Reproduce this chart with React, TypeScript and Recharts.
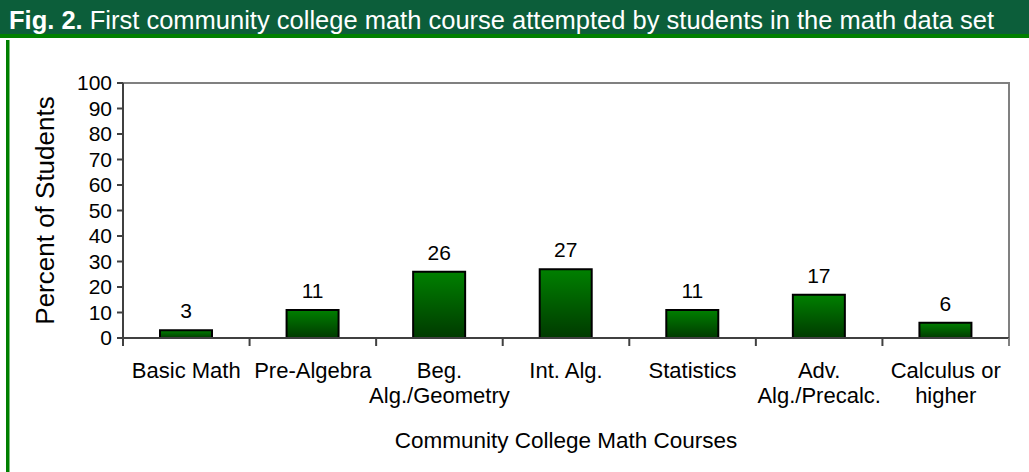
import React from "react";
import {
  BarChart, Bar, XAxis, YAxis, LabelList, ReferenceArea,
} from "recharts";

// courses (line breaks as they appear on the axis)
const COURSES = [
  "Basic Math",
  "Pre-Algebra",
  "Beg.\nAlg./Geometry",
  "Int. Alg.",
  "Statistics",
  "Adv.\nAlg./Precalc.",
  "Calculus or\nhigher",
];
const PERCENTS = [3, 11, 26, 27, 11, 17, 6];
const Y_TICKS = [0, 10, 20, 30, 40, 50, 60, 70, 80, 90, 100];

const data = COURSES.map((course, i) => ({ course, pct: PERCENTS[i] }));

const FONT = "'Liberation Sans', Arial, sans-serif";

// category label + tick marks at the band edges
const CourseTick = (props: any) => {
  const { x, y, payload, index, visibleTicksCount } = props;
  const half = payload.offset ?? 0;
  const lines = String(payload.value).split("\n");
  const last = index === visibleTicksCount - 1;
  return (
    <g>
      <line x1={x - half} y1={y} x2={x - half} y2={y + 8} stroke="#404040" strokeWidth={2} />
      {last && <line x1={x + half} y1={y} x2={x + half} y2={y + 8} stroke="#808080" strokeWidth={2} />}
      <text x={x} y={y + 40} textAnchor="middle" fontSize={22} fill="#000" fontFamily={FONT}>
        {lines.map((l, i) => (
          <tspan key={i} x={x} dy={i === 0 ? 0 : 25}>{l}</tspan>
        ))}
      </text>
    </g>
  );
};

export default function App() {
  return (
    <div style={{ position: "absolute", left: 0, top: 0, width: 1029, height: 472, background: "#fff", overflow: "hidden" }}>
      <div
        style={{
          position: "absolute", left: 0, top: 0, width: 1029, height: 38,
          background: "#0c5e3a", borderBottom: "4px solid #008000",
          color: "#fff", fontFamily: FONT, fontSize: 25.5, lineHeight: "40px",
          paddingLeft: 9, boxSizing: "border-box", whiteSpace: "nowrap",
        }}
      >
        <b>Fig. 2.</b> First community college math course attempted by students in the math data set
      </div>
      <div style={{ position: "absolute", left: 6, top: 40, width: 3, height: 432, background: "#008000", borderRight: "1px solid #7fbf7f" }} />
      <div style={{ position: "absolute", left: 0, top: 0 }}>
        <BarChart
          width={1029}
          height={472}
          data={data}
          margin={{ top: 83, right: 20, left: 43, bottom: 22 }}
        >
          <defs>
            <linearGradient id="barFill" x1="0" y1="0" x2="0" y2="1">
              <stop offset="0%" stopColor="#008000" />
              <stop offset="100%" stopColor="#003a00" />
            </linearGradient>
          </defs>
          <ReferenceArea y1={0} y2={100} fill="none" stroke="#808080" strokeWidth={2} ifOverflow="extendDomain" />
          <XAxis
            dataKey="course"
            height={112}
            tickSize={0}
            tickMargin={0}
            tickLine={false}
            interval={0}
            axisLine={{ stroke: "#404040", strokeWidth: 2 }}
            tick={<CourseTick />}
            label={{
              value: "Community College Math Courses",
              position: "insideBottom",
              offset: 2,
              style: { fontSize: 22.5, fill: "#000", fontFamily: FONT },
            }}
          />
          <YAxis
            width={80}
            domain={[0, 100]}
            ticks={Y_TICKS}
            interval={0}
            tickSize={6}
            tickMargin={5}
            axisLine={{ stroke: "#404040", strokeWidth: 2 }}
            tickLine={{ stroke: "#404040", strokeWidth: 2 }}
            tick={{ fontSize: 21, fill: "#000", fontFamily: FONT }}
            label={{
              value: "Percent of Students",
              angle: -90,
              position: "insideLeft",
              offset: 2,
              style: { fontSize: 26, fill: "#000", fontFamily: FONT, textAnchor: "middle" },
            }}
          />
          <Bar
            dataKey="pct"
            barSize={52}
            fill="url(#barFill)"
            stroke="#000"
            strokeWidth={2}
            isAnimationActive={false}
          >
            <LabelList dataKey="pct" position="top" offset={12} fill="#000" fontSize={21} fontFamily={FONT} />
          </Bar>
        </BarChart>
      </div>
    </div>
  );
}
